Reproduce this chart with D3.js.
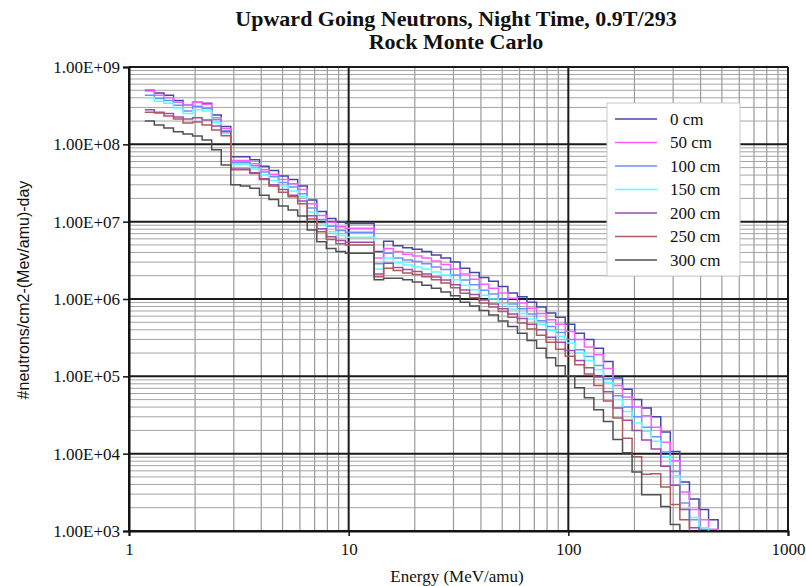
<!DOCTYPE html>
<html>
<head>
<meta charset="utf-8">
<script src="https://cdn.jsdelivr.net/npm/d3@7"></script>
<style>
  body { margin: 0; background: #fff; }
  text { font-family: "Liberation Serif", "Times New Roman", serif; fill: #111; }
</style>
</head>
<body>
<svg id="chart" width="806" height="586"></svg>
<script>
// Energy bin edges (MeV/amu), shared by every depth
const binEdges = [
  1.18, 1.304, 1.442, 1.594, 1.762, 1.947, 2.152, 2.379, 2.63, 2.907,
  3.213, 3.552, 3.926, 4.339, 4.796, 5.302, 5.86, 6.478, 7.16, 7.914,
  8.748, 9.67, 10.69, 11.81, 13.06, 14.43, 15.95, 17.63, 19.49, 21.55,
  23.82, 26.32, 29.1, 32.16, 35.55, 39.3, 43.44, 48.01, 53.07, 58.66,
  64.84, 71.67, 79.22, 87.57, 96.79, 107.0, 118.3, 130.7, 144.5, 159.7,
  176.5, 195.1, 215.7, 238.4, 263.5, 291.3, 321.9, 355.9, 393.4, 434.8, 480.6,
];

const depths = ["0 cm", "50 cm", "100 cm", "150 cm", "200 cm", "250 cm", "300 cm"];
const depthColors = ["#4646a6", "#ff5cff", "#7090ff", "#5cffff", "#a04cb0", "#b05a5a", "#505050"];

// flux per bin, #neutrons/cm2-(MeV/amu)-day
const flux0 = [
  5.0e8, 4.6e8, 4.3e8, 3.7e8, 3.2e8, 3.5e8, 3.4e8, 2.4e8, 1.7e8, 6.9e7,
  6.9e7, 6.3e7, 5.2e7, 4.6e7, 3.9e7, 3.5e7, 2.9e7, 1.9e7, 1.35e7, 1.1e7,
  1.0e7, 9.5e6, 9.5e6, 9.5e6, 4.1e6, 5.6e6, 4.9e6, 4.6e6, 4.4e6, 4.1e6,
  3.7e6, 3.4e6, 3.0e6, 2.5e6, 2.2e6, 1.9e6, 1.7e6, 1.45e6, 1.2e6, 1.07e6,
  9.1e5, 7.9e5, 6.6e5, 5.8e5, 4.7e5, 3.6e5, 3.0e5, 2.3e5, 1.55e5, 9.5e4,
  6.8e4, 5.0e4, 3.9e4, 3.0e4, 1.9e4, 1.07e4, 4.3e3, 2.6e3, 1.9e3, 1.4e3,
];
const flux50 = [
  4.9e8, 4.3e8, 4.0e8, 3.5e8, 3.2e8, 3.5e8, 3.3e8, 2.2e8, 1.6e8, 6.2e7,
  6.2e7, 5.6e7, 4.7e7, 4.1e7, 3.5e7, 3.1e7, 2.6e7, 1.7e7, 1.2e7, 9.8e6,
  8.6e6, 8.2e6, 8.2e6, 8.2e6, 3.4e6, 4.5e6, 4.1e6, 3.8e6, 3.6e6, 3.4e6,
  3.1e6, 2.8e6, 2.45e6, 2.1e6, 1.8e6, 1.55e6, 1.38e6, 1.2e6, 1.02e6, 8.9e5,
  7.6e5, 6.5e5, 5.4e5, 4.7e5, 3.8e5, 3.0e5, 2.4e5, 1.9e5, 1.26e5, 7.6e4,
  5.4e4, 4.0e4, 3.1e4, 2.2e4, 1.4e4, 8.1e3, 3.2e3, 1.9e3, 1.4e3, 1.05e3,
];
const flux100 = [
  4.3e8, 3.9e8, 3.7e8, 3.2e8, 2.7e8, 3.1e8, 2.9e8, 2.1e8, 1.5e8, 5.8e7,
  5.8e7, 5.3e7, 4.4e7, 3.8e7, 3.2e7, 2.8e7, 2.3e7, 1.5e7, 1.07e7, 8.7e6,
  7.7e6, 7.3e6, 7.3e6, 7.3e6, 2.85e6, 3.9e6, 3.4e6, 3.2e6, 3.05e6, 2.85e6,
  2.6e6, 2.4e6, 2.05e6, 1.76e6, 1.53e6, 1.3e6, 1.16e6, 1.0e6, 8.6e5, 7.5e5,
  6.4e5, 5.25e5, 4.4e5, 3.7e5, 3.0e5, 2.2e5, 1.8e5, 1.38e5, 9.3e4, 5.6e4,
  4.0e4, 3.0e4, 2.2e4, 1.66e4, 1.05e4, 5.9e3, 2.3e3, 1.4e3, 1.05e3,
];
const flux150 = [
  4.0e8, 3.6e8, 3.4e8, 2.95e8, 2.5e8, 2.8e8, 2.7e8, 1.9e8, 1.38e8, 5.5e7,
  5.5e7, 4.8e7, 4.0e7, 3.4e7, 2.9e7, 2.5e7, 2.1e7, 1.33e7, 9.4e6, 7.4e6,
  6.6e6, 6.3e6, 6.3e6, 6.3e6, 2.45e6, 3.4e6, 2.95e6, 2.75e6, 2.6e6, 2.45e6,
  2.24e6, 2.04e6, 1.78e6, 1.51e6, 1.32e6, 1.12e6, 1.0e6, 8.7e5, 7.4e5, 6.5e5,
  5.5e5, 4.7e5, 3.9e5, 3.3e5, 2.7e5, 2.0e5, 1.6e5, 1.23e5, 8.3e4, 5.0e4,
  3.5e4, 2.5e4, 1.95e4, 1.45e4, 9.1e3, 5.2e3, 2.0e3, 1.5e3, 1.1e3,
];
const flux200 = [
  2.8e8, 2.6e8, 2.5e8, 2.26e8, 2.13e8, 2.2e8, 2.07e8, 1.73e8, 1.45e8, 4.8e7,
  4.8e7, 4.3e7, 3.6e7, 3.0e7, 2.6e7, 2.2e7, 1.85e7, 1.19e7, 8.1e6, 6.4e6,
  5.7e6, 5.4e6, 5.4e6, 5.4e6, 2.1e6, 2.9e6, 2.55e6, 2.4e6, 2.27e6, 2.1e6,
  1.93e6, 1.76e6, 1.53e6, 1.31e6, 1.14e6, 9.7e5, 8.6e5, 7.5e5, 6.4e5, 5.6e5,
  4.7e5, 4.0e5, 3.2e5, 2.75e5, 2.16e5, 1.6e5, 1.29e5, 9.8e4, 6.3e4, 3.9e4,
  2.7e4, 2.0e4, 1.5e4, 1.15e4, 6.9e3, 3.9e3, 1.9e3, 1.1e3,
];
const flux250 = [
  2.6e8, 2.55e8, 2.33e8, 2.13e8, 1.89e8, 1.95e8, 1.78e8, 1.53e8, 1.29e8, 4.7e7,
  4.7e7, 4.2e7, 3.5e7, 2.9e7, 2.4e7, 2.1e7, 1.7e7, 1.08e7, 7.4e6, 5.9e6,
  5.2e6, 5.0e6, 5.0e6, 5.0e6, 1.94e6, 2.5e6, 2.33e6, 2.17e6, 2.07e6, 1.94e6,
  1.77e6, 1.61e6, 1.4e6, 1.19e6, 1.04e6, 8.9e5, 7.9e5, 6.9e5, 5.8e5, 4.9e5,
  4.1e5, 3.4e5, 2.75e5, 2.24e5, 1.82e5, 1.41e5, 1.07e5, 7.6e4, 4.8e4, 2.9e4,
  1.58e4, 9.1e3, 5.4e3, 5.5e3, 3.7e3, 2.2e3, 1.4e3,
];
const flux300 = [
  2.0e8, 1.78e8, 1.63e8, 1.45e8, 1.36e8, 1.28e8, 1.14e8, 8.5e7, 5.4e7, 3.0e7,
  2.9e7, 2.7e7, 2.2e7, 1.93e7, 1.6e7, 1.42e7, 1.18e7, 7.8e6, 5.5e6, 4.5e6,
  4.1e6, 3.9e6, 3.9e6, 3.9e6, 1.78e6, 1.86e6, 1.86e6, 1.78e6, 1.66e6, 1.51e6,
  1.38e6, 1.23e6, 1.1e6, 9.1e5, 8.1e5, 7.1e5, 6.2e5, 5.2e5, 4.4e5, 3.6e5,
  2.9e5, 2.3e5, 1.74e5, 1.37e5, 1.02e5, 7.1e4, 5.3e4, 3.7e4, 2.6e4, 1.52e4,
  1.03e4, 5.8e3, 2.95e3, 2.95e3, 2.07e3, 1.21e3,
];
const fluxByDepth = [flux0, flux50, flux100, flux150, flux200, flux250, flux300];

const xTickValues = [1, 10, 100, 1000];
const yTickValues = [1e3, 1e4, 1e5, 1e6, 1e7, 1e8, 1e9];

const W = 806, H = 586;
const margin = { top: 67, right: 18, bottom: 55, left: 129 };
const SERIF = '"Liberation Serif", "Times New Roman", serif';

const svg = d3.select("#chart");
svg.append("rect").attr("width", W).attr("height", H).attr("fill", "#fff");

const x = d3.scaleLog().domain([1, 1000]).range([margin.left, W - margin.right]);
const y = d3.scaleLog().domain([1e3, 1e9]).range([H - margin.bottom, margin.top]);

const isDecade = (v) => Math.abs(Math.log10(v) - Math.round(Math.log10(v))) < 1e-9;

// grid: minor lines first, decade lines on top
const grid = svg.append("g");
const xMinor = x.ticks().filter((v) => !isDecade(v));
const yMinor = y.ticks().filter((v) => !isDecade(v));

grid.selectAll("line.vx")
  .data(xMinor)
  .join("line")
  .attr("x1", (d) => x(d)).attr("x2", (d) => x(d))
  .attr("y1", y.range()[0]).attr("y2", y.range()[1])
  .attr("stroke", "#9a9a9a").attr("stroke-width", 1.2);

grid.selectAll("line.hy")
  .data(yMinor)
  .join("line")
  .attr("x1", x.range()[0]).attr("x2", x.range()[1])
  .attr("y1", (d) => y(d)).attr("y2", (d) => y(d))
  .attr("stroke", "#a4a4a4").attr("stroke-width", 1);

grid.selectAll("line.vmaj")
  .data(xTickValues)
  .join("line")
  .attr("x1", (d) => x(d)).attr("x2", (d) => x(d))
  .attr("y1", y.range()[0]).attr("y2", y.range()[1])
  .attr("stroke", "#1a1a1a").attr("stroke-width", 2);

grid.selectAll("line.hmaj")
  .data(yTickValues)
  .join("line")
  .attr("x1", x.range()[0]).attr("x2", x.range()[1])
  .attr("y1", (d) => y(d)).attr("y2", (d) => y(d))
  .attr("stroke", "#1a1a1a").attr("stroke-width", 2);

// step histograms, each ends by dropping to the bottom axis
const stepLine = d3.line()
  .x((d) => x(d[0]))
  .y((d) => y(d[1]))
  .curve(d3.curveStepAfter);

const lines = svg.append("g").attr("fill", "none");
fluxByDepth.forEach((vals, i) => {
  const pts = vals.map((v, k) => [binEdges[k], v]);
  pts.push([binEdges[vals.length], y.domain()[0]]);
  lines.append("path")
    .attr("d", stepLine(pts))
    .attr("stroke", depthColors[i])
    .attr("stroke-width", 1.5)
    .attr("stroke-linejoin", "miter");
});

// axes
const fmtE = (v) => {
  const e = Math.round(Math.log10(v));
  return "1.00E+" + String(e).padStart(2, "0");
};

const yAxis = svg.append("g")
  .attr("transform", `translate(${margin.left},0)`)
  .call(d3.axisLeft(y).tickValues(yTickValues).tickFormat(fmtE).tickSize(6).tickPadding(3));
yAxis.select(".domain").attr("stroke", "#111").attr("stroke-width", 2);
yAxis.selectAll(".tick line").attr("stroke", "#111").attr("stroke-width", 1.5);
yAxis.selectAll(".tick text")
  .attr("font-family", SERIF)
  .attr("font-size", 17).attr("fill", "#111");

const xAxis = svg.append("g")
  .attr("transform", `translate(0,${H - margin.bottom})`)
  .call(d3.axisBottom(x).tickValues(xTickValues).tickFormat(d3.format("d")).tickSize(5).tickPadding(7));
xAxis.select(".domain").attr("stroke", "#111").attr("stroke-width", 2);
xAxis.selectAll(".tick line").attr("stroke", "#111").attr("stroke-width", 1.5);
xAxis.selectAll(".tick text")
  .attr("font-family", SERIF)
  .attr("font-size", 17).attr("fill", "#111");

// titles
svg.append("text")
  .attr("x", 456).attr("y", 26)
  .attr("text-anchor", "middle")
  .attr("font-size", 22).attr("font-weight", 700)
  .text("Upward Going Neutrons, Night Time, 0.9T/293");
svg.append("text")
  .attr("x", 456).attr("y", 49)
  .attr("text-anchor", "middle")
  .attr("font-size", 22).attr("font-weight", 700)
  .text("Rock Monte Carlo");

svg.append("text")
  .attr("x", 457).attr("y", 582)
  .attr("text-anchor", "middle")
  .attr("font-size", 17)
  .text("Energy (MeV/amu)");

svg.append("text")
  .attr("transform", `translate(29,290) rotate(-90)`)
  .attr("text-anchor", "middle")
  .style("font-family", '"Liberation Sans Narrow", "Liberation Sans", Arial, sans-serif')
  .attr("font-size", 16)
  .text("#neutrons/cm2-(Mev/amu)-day");

// legend
const leg = svg.append("g").attr("transform", "translate(607,103)");
leg.append("rect")
  .attr("width", 133).attr("height", 173)
  .attr("fill", "#fff").attr("stroke", "#c8c8c8").attr("stroke-width", 1);
depths.forEach((name, i) => {
  const ly = 16 + i * 23.5;
  leg.append("line")
    .attr("x1", 8).attr("x2", 50).attr("y1", ly).attr("y2", ly)
    .attr("stroke", depthColors[i]).attr("stroke-width", 1.5);
  leg.append("text")
    .attr("x", 63).attr("y", ly)
    .attr("dominant-baseline", "central")
    .attr("font-size", 17)
    .text(name);
});
</script>
</body>
</html>
